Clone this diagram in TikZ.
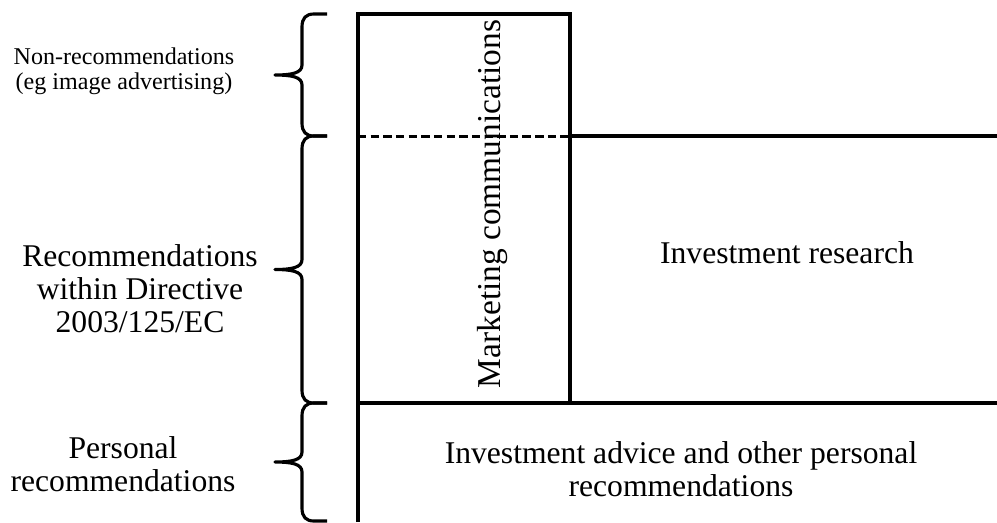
\documentclass[tikz,border=0pt]{standalone}
\usepackage{fontspec}
\setmainfont{Liberation Serif}

\begin{document}
\begin{tikzpicture}[x=0.02cm,y=-0.02cm,
        frame/.style={line width=1.9pt},
        curly/.style={line width=1.8pt,line join=round},
        big/.style={font=\fontsize{18}{18.7}\selectfont,align=center,inner sep=0pt},
        small/.style={font=\fontsize{13.7}{14.5}\selectfont,align=center,inner sep=0pt}]
                \useasboundingbox (0,0) rectangle (997,522);
                \draw[frame] (358,522) -- (358,14) -- (570,14) -- (570,403);
                \draw[frame] (570,136) -- (997,136);
                \draw[frame] (358,403) -- (997,403);
                \draw[line width=1.7pt,dash pattern=on 4.8pt off 2.4pt] (358,136) -- (570,136);
                
                \foreach \t/\b in {14/136,136/403,403/521} {
                    \pgfmathsetmacro{\m}{(\t+\b)/2}
                    \draw[curly] (327,\t) -- (314,\t) .. controls (306,\t) and (302,\t+4) .. (302,\t+13)
                        -- (302,\m-10) .. controls (302,\m-2) and (292,\m) .. (275,\m)
                        .. controls (292,\m) and (302,\m+2) .. (302,\m+10)
                        -- (302,\b-13) .. controls (302,\b-4) and (306,\b) .. (314,\b) -- (327,\b);
                }
                
                \node[small] (nonrec) at (124,71) {Non-recommendations\\(eg image advertising)};
                \node[big] (recdir) at (140,289) {Recommendations\\within Directive\\2003/125/EC};
                \node[big] (personal) at (123,464) {Personal\\recommendations};
                \node[big,font=\fontsize{19}{20}\selectfont,rotate=90] (mktg) at (493,204) {Marketing communications};
                \node[big] (research) at (787,253) {Investment research};
                \node[big] (advice) at (681,469) {Investment advice and other personal\\recommendations};
            \end{tikzpicture}
\end{document}
